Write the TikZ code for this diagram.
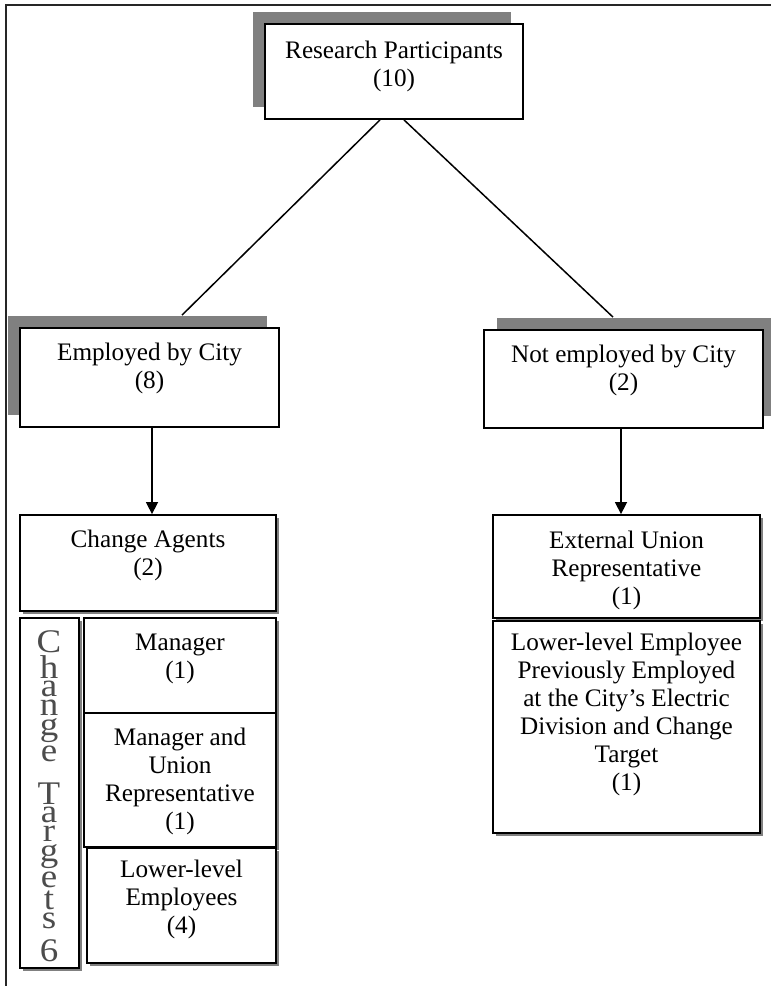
\documentclass[tikz,border=0pt]{standalone}
\usepackage{fontspec}
\setmainfont{Liberation Serif}
\newfontfamily\wideserif[FakeStretch=1.12]{Liberation Serif}
\usetikzlibrary{fit,calc,shadows,arrows.meta}
\definecolor{shadowgray}{RGB}{128,128,128}
\newcommand\vfontset{\wideserif\fontsize{16.5}{0}\selectfont\lineskip=1.5pt\relax\lineskiplimit=0pt\relax}
\begin{document}
\begin{tikzpicture}[x=0.5pt,y=-0.5pt,
  box/.style={draw=black, line width=0.9pt, fill=white, inner sep=0pt},
  bigshadowL/.style={drop shadow={shadow xshift=-6pt, shadow yshift=6pt, fill=shadowgray, opacity=1}},
  bigshadowR/.style={drop shadow={shadow xshift=6.5pt, shadow yshift=6pt, fill=shadowgray, opacity=1}},
  smallshadow/.style={drop shadow={shadow xshift=1.5pt, shadow yshift=-1.5pt, fill=shadowgray, opacity=1}},
  txt/.style={anchor=north, align=center, inner sep=0pt, font=\fontsize{12.6}{14}\selectfont},
  vtxt/.style={anchor=north, align=center, inner sep=0pt, text=black!70, font=\vfontset},
  conn/.style={line width=0.75pt},
  arr/.style={line width=0.75pt, -{Triangle[length=6pt,width=6pt]}},
]
\useasboundingbox (0,0) rectangle (771,986);
% outer frame
\draw[line width=1pt, black!85] (6,986) -- (6,5) -- (771,5);

% top level
\node[box, bigshadowL, fit={(265,24) (523,119)}] (top) {};
\node[txt] (toptxt) at (394,38.4) {\strut Research Participants\\(10)};

% second level
\node[box, bigshadowL, fit={(20,328) (279,427)}] (emp) {};
\node[txt] (emptxt) at (149.5,340.4) {\strut Employed by City\\(8)};

\node[box, bigshadowR, fit={(484,330) (763,428)}] (ne) {};
\node[txt] (netxt) at (623.5,342.4) {\strut Not employed by City\\(2)};

% third level, left
\node[box, smallshadow, fit={(20,515) (276,611)}] (ca) {};
\node[txt] (catxt) at (148,527.4) {\strut Change Agents\\(2)};

\node[box, smallshadow, fit={(20,618) (79,968)}] (ct) {};
\node[vtxt] (cttxt) at (49,630) {C\\ h\\ a\\ n\\ g\\ e\\[9pt] T\\ a\\ r\\ g\\ e\\ t\\ s\\[4pt] 6};

\node[box, smallshadow, fit={(84,618) (276,713)}] (mgr) {};
\node[txt] (mgrtxt) at (180,630.4) {\strut Manager\\(1)};

\node[box, smallshadow, fit={(84,713) (276,847)}] (mur) {};
\node[txt] (murtxt) at (180,725.4) {\strut Manager and\\Union\\Representative\\(1)};

\node[box, smallshadow, fit={(87,848) (276,963)}] (lle) {};
\node[txt] (lletxt) at (181.5,857.4) {\strut Lower-level\\Employees\\(4)};

% third level, right
\node[box, smallshadow, fit={(493,515) (760,618)}] (ext) {};
\node[txt] (exttxt) at (626.5,528.4) {\strut External Union\\Representative\\(1)};

\node[box, smallshadow, fit={(493,621) (760,833)}] (prev) {};
\node[txt] (prevtxt) at (626.5,630.4) {\strut Lower-level Employee\\Previously Employed\\at the City’s Electric\\Division and Change\\Target\\(1)};

% connectors
\draw[conn] ($(top.south)+(-14,0)$) -- ($(emp.north)+(32.5,-12)$);
\draw[conn] ($(top.south)+(10,0)$) -- ($(ne.north)+(-10.5,-12)$);

\coordinate (la) at ($(emp.south)+(2.5,0)$);
\draw[arr] (la) -- (la |- ca.north);
\coordinate (ra) at ($(ne.south)+(-2.5,0)$);
\draw[arr] (ra) -- (ra |- ext.north);
\end{tikzpicture}
\end{document}
